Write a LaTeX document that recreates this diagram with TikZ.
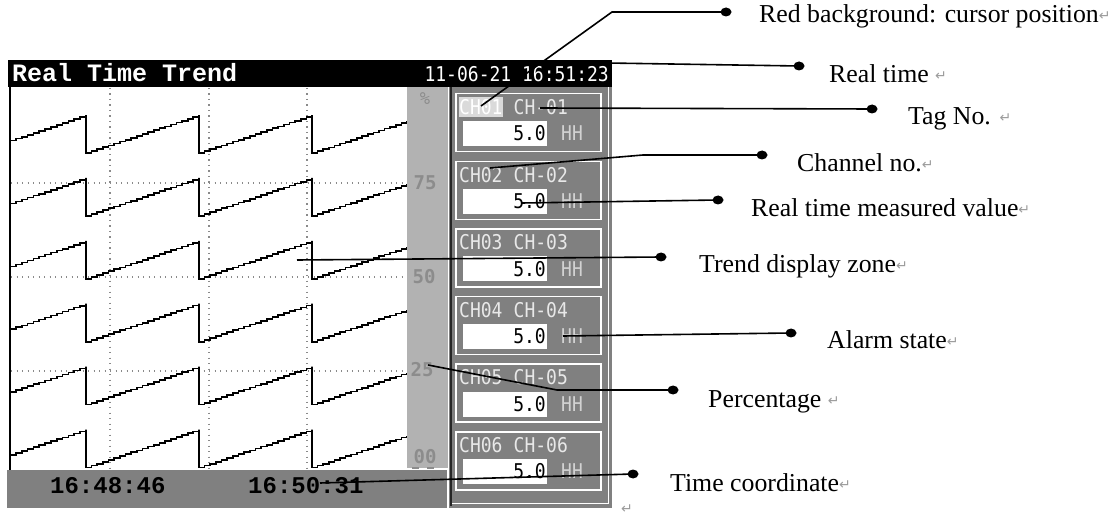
\documentclass[tikz,border=0pt]{standalone}
\usepackage{fontspec}
\usepackage{graphicx}
\setmainfont{Liberation Serif}
\newfontfamily\screenmono{Liberation Mono}
\newfontfamily\lcdfamily{DejaVu Sans Mono}
\newfontfamily\arrowsym{DejaVu Sans}
\usetikzlibrary{shapes.geometric}

\definecolor{panelgray}{HTML}{808080}
\definecolor{scalegray}{HTML}{B2B2B2}
\definecolor{scaletext}{HTML}{8C8C8C}
\definecolor{lcdtext}{HTML}{E8E8E8}
\definecolor{hhtext}{HTML}{D2D2D2}
\definecolor{gridgray}{HTML}{8A8A8A}
\definecolor{markgray}{HTML}{9C9C9C}
\definecolor{cursorbg}{HTML}{DADADA}

% slightly stretched LCD-style text
\newcommand\lcdtxt[1]{\scalebox{1}[1.13]{#1}}
% paragraph mark after each caption
\newcommand\pmark{\raisebox{2bp}{\arrowsym\fontsize{14bp}{14bp}\selectfont\textcolor{markgray}{↵}}}

\tikzset{
  annot/.style={anchor=base west, inner sep=0pt, font=\fontsize{25.8bp}{25.8bp}\selectfont},
  leader/.style={draw=black, line width=1.6bp},
  leaderdot/.style={ellipse, fill=black, minimum width=11bp, minimum height=9bp, inner sep=0pt},
  lcd/.style={inner sep=0pt, font=\lcdfamily\fontsize{18bp}{18bp}\selectfont, text=lcdtext},
  chbox/.style={draw=white, line width=1.5bp, fill=panelgray, minimum width=145bp, minimum height=58bp, anchor=north west, inner sep=0pt},
  valbox/.style={fill=white, minimum width=84bp, minimum height=25bp, anchor=north west, inner sep=0pt},
  scalelbl/.style={inner sep=0pt, font=\lcdfamily\bfseries\fontsize{19bp}{19bp}\selectfont, text=scaletext},
  timelbl/.style={inner sep=0pt, anchor=west, font=\screenmono\bfseries\fontsize{24bp}{24bp}\selectfont},
  griddots/.style={gridgray, line width=1.2bp, dash pattern=on 1.3bp off 4.2bp},
  tracepath/.style={black, line width=1.7bp},
}

\begin{document}
\begin{tikzpicture}[x=1bp, y=-1bp]
\useasboundingbox (0,0) rectangle (1117,519);
\fill[white] (0,0) rectangle (1117,519);

% ---- title bar ----
\fill[black] (8,60) rectangle (612,87);
\node[anchor=base west, inner sep=0pt, text=white, font=\screenmono\bfseries\fontsize{25bp}{25bp}\selectfont] (title) at (12,82) {Real Time Trend};
\node[lcd, text=white, anchor=east] (clock) at (609,74) {\lcdtxt{11-06-21 16:51:23}};

% ---- trend area ----
\fill[white] (10,87) rectangle (407,472);
\foreach \gx in {110,209,307} \draw[griddots] (\gx,88) -- (\gx,471);
\foreach \gy in {183,277,371} \draw[griddots] (11,\gy) -- (406,\gy);
\foreach \k in {0,...,5}{
  \pgfmathsetmacro\off{62.9*\k}
  \draw[tracepath] (10,140.6+\off)
    \foreach \s in {1,...,13}{ -- ++(5.846,0) -- ++(0,-1.969) }
    -- ++(0,38)
    \foreach \s in {1,...,20}{ -- ++(5.65,0) -- ++(0,-1.9) }
    -- ++(0,38)
    \foreach \s in {1,...,20}{ -- ++(5.65,0) -- ++(0,-1.9) }
    -- ++(0,38)
    \foreach \s in {1,...,17}{ -- ++(5.588,0) -- ++(0,-1.876) };
}
\draw[black, line width=2bp] (10,87) -- (10,472);

% ---- percentage scale ----
\fill[scalegray] (407,87) rectangle (448,468);
\node[inner sep=0pt, text=scaletext, font=\lcdfamily\fontsize{17bp}{17bp}\selectfont] (pct) at (425,99) {\%};
\node[scalelbl] (p75) at (425,183) {75};
\node[scalelbl] (p50) at (424,277) {50};
\node[scalelbl] (p25) at (422,370) {25};
\node[scalelbl] (p00) at (425,457) {00};
\draw[scaletext, line width=1.2bp] (412,468) -- (419,468) (427,468) -- (434,468);

% ---- time axis ----
\fill[panelgray] (7,470) rectangle (447,508);
\node[timelbl] (t1) at (50,486) {16:48:46};
\node[timelbl] (t2) at (248,486) {16:50:31};

% ---- channel panel ----
\fill[panelgray] (449,87) rectangle (612,508);
\draw[white, line width=1bp] (608.5,87) -- (608.5,503) -- (452,503);
\draw[black!85, line width=2.2bp] (451,87) -- (451,506);

\foreach \i in {1,...,6}{
  \pgfmathsetmacro\tp{93+67.6*(\i-1)}
  \node[chbox] (ch\i) at (455,\tp) {};
  \node[valbox] (val\i) at (463,\tp+28) {};
  \node[lcd, text=black, anchor=east] (num\i) at (546,\tp+40.5) {\lcdtxt{5.0}};
  \node[lcd, text=hhtext, anchor=west] (alarm\i) at (561,\tp+40.5) {\lcdtxt{HH}};
}
\fill[cursorbg] (459,97) rectangle (503,117);
\node[lcd, text=white, anchor=west] (chno1) at (459,107) {\lcdtxt{CH01}};
\node[lcd, anchor=west] (tag1) at (513.5,107) {\lcdtxt{CH-01}};
\foreach \i in {2,...,6}{
  \pgfmathsetmacro\tp{93+67.6*(\i-1)}
  \node[lcd, anchor=west] (chno\i) at (459,\tp+14) {\lcdtxt{CH0\i}};
  \node[lcd, anchor=west] (tag\i) at (513.5,\tp+14) {\lcdtxt{CH-0\i}};
}

% ---- callouts ----
\coordinate (src-cursor) at (481,106);
\coordinate (bend-cursor) at (612,12);
\node[leaderdot] (dot-cursor) at (726,12) {};
\draw[leader] (src-cursor) -- (bend-cursor) -- (dot-cursor.center);
\node[annot] (lbl-cursor) at (759,23) {Red background: cursor position\pmark};

\coordinate (src-clock) at (607,63);
\node[leaderdot] (dot-clock) at (799,66) {};
\draw[leader] (src-clock) -- (dot-clock.center);
\node[annot] (lbl-clock) at (829,83) {Real time \pmark};

\coordinate (src-tag) at (540,108);
\node[leaderdot] (dot-tag) at (872,109) {};
\draw[leader] (src-tag) -- (dot-tag.center);
\node[annot] (lbl-tag) at (908,125) {Tag No. \pmark};

\coordinate (src-chno) at (490,168);
\coordinate (bend-chno) at (643,155);
\node[leaderdot] (dot-chno) at (762,155) {};
\draw[leader] (src-chno) -- (bend-chno) -- (dot-chno.center);
\node[annot] (lbl-chno) at (797,172) {Channel no.\pmark};

\coordinate (src-value) at (522,203);
\node[leaderdot] (dot-value) at (718,200) {};
\draw[leader] (src-value) -- (dot-value.center);
\node[annot] (lbl-value) at (751,217) {Real time measured value\pmark};

\coordinate (src-trend) at (297,260);
\node[leaderdot] (dot-trend) at (661,257) {};
\draw[leader] (src-trend) -- (dot-trend.center);
\node[annot] (lbl-trend) at (699,273) {Trend display zone\pmark};

\coordinate (src-alarm) at (563,336);
\node[leaderdot] (dot-alarm) at (791,333) {};
\draw[leader] (src-alarm) -- (dot-alarm.center);
\node[annot] (lbl-alarm) at (827,349) {Alarm state\pmark};

\coordinate (src-pct) at (428,365);
\coordinate (bend-pct) at (557,390);
\node[leaderdot] (dot-pct) at (673,390) {};
\draw[leader] (src-pct) -- (bend-pct) -- (dot-pct.center);
\node[annot] (lbl-pct) at (708,407) {Percentage \pmark};

\coordinate (src-time) at (320,483);
\node[leaderdot] (dot-time) at (633,474) {};
\draw[leader] (src-time) -- (dot-time.center);
\node[annot] (lbl-time) at (670,491) {Time coordinate\pmark};

\node[inner sep=0pt] (endmark) at (627,510) {\pmark};
\end{tikzpicture}
\end{document}
